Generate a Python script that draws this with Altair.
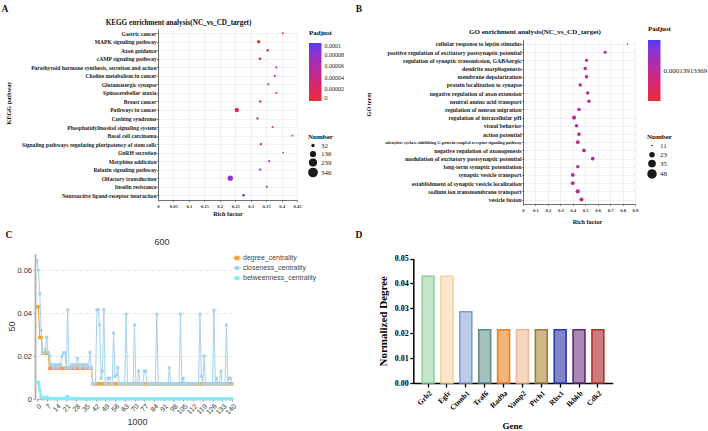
import altair as alt
import pandas as pd

SERIF = "Liberation Serif"
SANS = "Liberation Sans"
WIDTH, HEIGHT = 708, 431

# ---------------- A: KEGG enrichment ----------------
kegg_terms = [
    "Gastric cancer", "MAPK signaling pathway", "Axon guidance", "cAMP signaling pathway",
    "Parathyroid hormone synthesis, secretion and action", "Choline metabolism in cancer",
    "Glutamatergic synapse", "Spinocerebellar ataxia", "Breast cancer", "Pathways in cancer",
    "Cushing syndrome", "Phosphatidylinositol signaling system", "Basal cell carcinoma",
    "Signaling pathways regulating pluripotency of stem cells", "GnRH secretion",
    "Morphine addiction", "Relaxin signaling pathway", "Olfactory transduction",
    "Insulin resistance", "Neuroactive ligand-receptor interaction",
]
kegg_rich = [0.404, 0.326, 0.355, 0.330, 0.383, 0.378, 0.357, 0.383, 0.331, 0.255,
             0.322, 0.371, 0.435, 0.333, 0.405, 0.360, 0.331, 0.234, 0.352, 0.277]
kegg_padj = [1e-7, 1e-7, 2e-7, 3e-7, 5e-7, 6e-7, 8e-7, 1e-6, 1.5e-6, 2e-6,
             8e-6, 1.4e-5, 1.8e-5, 2.0e-5, 6.0e-5, 6.5e-5, 7.5e-5, 8.0e-5, 7.5e-5, 9.0e-5]
kegg_count = [5, 35, 15, 20, 8, 8, 10, 6, 15, 65, 12, 8, 5, 14, 5, 8, 12, 100, 8, 20]
kegg_size_breaks = [32, 136, 239, 346]
kegg_padj_breaks = [0, 0.00002, 0.00004, 0.00006, 0.00008, 0.0001]
kegg_rich_ticks = [0, 0.05, 0.1, 0.15, 0.2, 0.25, 0.3, 0.35, 0.4, 0.45]

# ---------------- B: GO enrichment ----------------
go_terms = [
    "cellular response to leptin stimulus",
    "positive regulation of excitatory postsynaptic potential",
    "regulation of synaptic transmission, GABAergic",
    "dendrite morphogenesis",
    "membrane depolarization",
    "protein localization to synapse",
    "negative regulation of axon extension",
    "neutral amino acid transport",
    "regulation of neuron migration",
    "regulation of intracellular pH",
    "visual behavior",
    "action potential",
    "adenylate cyclase-inhibiting G-protein coupled receptor signaling pathway",
    "negative regulation of axonogenesis",
    "modulation of excitatory postsynaptic potential",
    "long-term synaptic potentiation",
    "synaptic vesicle transport",
    "establishment of synaptic vesicle localization",
    "sodium ion transmembrane transport",
    "vesicle fusion",
]
go_rich = [0.84, 0.66, 0.51, 0.50, 0.51, 0.46, 0.52, 0.53, 0.45, 0.41,
           0.43, 0.45, 0.44, 0.49, 0.56, 0.44, 0.40, 0.40, 0.44, 0.47]
go_count = [11, 14, 14, 15, 15, 15, 15, 15, 15, 17, 15, 16, 16, 16, 16, 15, 16, 16, 18, 17]
go_padj = [0.00013913369, 0.00013913369, 0.00013913369, 0.00013913369, 0.00013913369,
           0.00013913369, 0.00013913369, 0.00013913369, 0.00013913369, 0.00013913369,
           0.00013913369, 0.00013913369, 0.00013913369, 0.00013913369, 0.00013913369,
           0.00013913369, 0.00013913369, 0.00013913369, 0.00013913369, 0.00013913369]
go_size_breaks = [11, 23, 35, 48]
go_rich_ticks = [0, 0.1, 0.2, 0.3, 0.4, 0.5, 0.6, 0.7, 0.8, 0.9]

# ---------------- C: network centralities per node ----------------
node_index = list(range(141))
degree_centrality = [
    0.0429, 0.0429, 0.0286, 0.0286, 0.0214, 0.0214, 0.0214, 0.0214, 0.0214, 0.0143,
    0.0143, 0.0143, 0.0143, 0.0143, 0.0143, 0.0143, 0.0143, 0.0143, 0.0143, 0.0143,
    0.0143, 0.0143, 0.0143, 0.0143, 0.0143, 0.0143, 0.0143, 0.0143, 0.0143, 0.0143,
    0.0143, 0.0143, 0.0143, 0.0143, 0.0143, 0.0143, 0.0143, 0.0143, 0.0143, 0.0143,
    0.0071, 0.0071, 0.0071, 0.0071, 0.0071, 0.0071, 0.0071, 0.0071, 0.0071, 0.0071,
    0.0071, 0.0071, 0.0071, 0.0071, 0.0071, 0.0071, 0.0071, 0.0071, 0.0071, 0.0071,
    0.0071, 0.0071, 0.0071, 0.0071, 0.0071, 0.0071, 0.0071, 0.0071, 0.0071, 0.0071,
    0.0071, 0.0071, 0.0071, 0.0071, 0.0071, 0.0071, 0.0071, 0.0071, 0.0071, 0.0071,
    0.0071, 0.0071, 0.0071, 0.0071, 0.0071, 0.0071, 0.0071, 0.0071, 0.0071, 0.0071,
    0.0071, 0.0071, 0.0071, 0.0071, 0.0071, 0.0071, 0.0071, 0.0071, 0.0071, 0.0071,
    0.0071, 0.0071, 0.0071, 0.0071, 0.0071, 0.0071, 0.0071, 0.0071, 0.0071, 0.0071,
    0.0071, 0.0071, 0.0071, 0.0071, 0.0071, 0.0071, 0.0071, 0.0071, 0.0071, 0.0071,
    0.0071, 0.0071, 0.0071, 0.0071, 0.0071, 0.0071, 0.0071, 0.0071, 0.0071, 0.0071,
    0.0071, 0.0071, 0.0071, 0.0071, 0.0071, 0.0071, 0.0071, 0.0071, 0.0071, 0.0071,
    0.0071,
]
closeness_centrality = [
    0.0645, 0.0600, 0.0490, 0.0320, 0.0215, 0.0215, 0.0230, 0.0287, 0.0215, 0.0200,
    0.0160, 0.0160, 0.0145, 0.0160, 0.0160, 0.0145, 0.0160, 0.0160, 0.0200, 0.0215,
    0.0215, 0.0145, 0.0415, 0.0145, 0.0145, 0.0160, 0.0160, 0.0145, 0.0160, 0.0190,
    0.0160, 0.0145, 0.0160, 0.0160, 0.0160, 0.0145, 0.0160, 0.0145, 0.0217, 0.0145,
    0.0071, 0.0071, 0.0071, 0.0415, 0.0415, 0.0345, 0.0097, 0.0130, 0.0415, 0.0071,
    0.0071, 0.0097, 0.0097, 0.0071, 0.0071, 0.0307, 0.0105, 0.0110, 0.0145, 0.0071,
    0.0071, 0.0071, 0.0071, 0.0071, 0.0395, 0.0071, 0.0071, 0.0071, 0.0071, 0.0071,
    0.0345, 0.0071, 0.0071, 0.0130, 0.0071, 0.0071, 0.0071, 0.0130, 0.0130, 0.0071,
    0.0071, 0.0071, 0.0071, 0.0071, 0.0071, 0.0071, 0.0395, 0.0071, 0.0071, 0.0071,
    0.0071, 0.0071, 0.0071, 0.0071, 0.0071, 0.0145, 0.0071, 0.0071, 0.0071, 0.0071,
    0.0071, 0.0071, 0.0071, 0.0395, 0.0071, 0.0097, 0.0071, 0.0071, 0.0071, 0.0071,
    0.0071, 0.0071, 0.0071, 0.0071, 0.0071, 0.0071, 0.0071, 0.0395, 0.0105, 0.0071,
    0.0200, 0.0071, 0.0071, 0.0071, 0.0071, 0.0071, 0.0071, 0.0413, 0.0071, 0.0097,
    0.0071, 0.0071, 0.0130, 0.0071, 0.0071, 0.0071, 0.0345, 0.0071, 0.0097, 0.0097,
    0.0071,
]
betweenness_centrality = [
    0.0075, 0.0078, 0.0042, 0.0010, 0.0006, 0.0005, 0.0005, 0.0009, 0.0004, 0.0003,
    0.0002, 0.0002, 0.0002, 0.0002, 0.0002, 0.0002, 0.0002, 0.0002, 0.0002, 0.0002,
    0.0002, 0.0002, 0.0012, 0.0002, 0.0002, 0.0002, 0.0002, 0.0001, 0.0001, 0.0002,
    0.0001, 0.0001, 0.0001, 0.0001, 0.0001, 0.0001, 0.0001, 0.0001, 0.0001, 0.0001,
    0.0001, 0.0001, 0.0001, 0.0001, 0.0001, 0.0001, 0.0001, 0.0001, 0.0001, 0.0001,
    0.0001, 0.0001, 0.0001, 0.0001, 0.0001, 0.0001, 0.0001, 0.0001, 0.0001, 0.0001,
    0.0001, 0.0001, 0.0001, 0.0001, 0.0001, 0.0001, 0.0001, 0.0001, 0.0001, 0.0001,
    0.0001, 0.0001, 0.0001, 0.0001, 0.0001, 0.0001, 0.0001, 0.0001, 0.0001, 0.0001,
    0.0001, 0.0001, 0.0001, 0.0001, 0.0001, 0.0001, 0.0001, 0.0001, 0.0001, 0.0001,
    0.0001, 0.0001, 0.0001, 0.0001, 0.0001, 0.0001, 0.0001, 0.0001, 0.0001, 0.0001,
    0.0001, 0.0001, 0.0001, 0.0001, 0.0001, 0.0001, 0.0001, 0.0001, 0.0001, 0.0001,
    0.0001, 0.0001, 0.0001, 0.0001, 0.0001, 0.0001, 0.0001, 0.0001, 0.0001, 0.0001,
    0.0001, 0.0001, 0.0001, 0.0001, 0.0001, 0.0001, 0.0001, 0.0001, 0.0001, 0.0001,
    0.0001, 0.0001, 0.0001, 0.0001, 0.0001, 0.0001, 0.0001, 0.0001, 0.0001, 0.0001,
    0.0001,
]
series_names = ["degree_centrality", "closeness_centrality", "betweenness_centrality"]
node_ticks = [0, 7, 14, 21, 28, 35, 42, 49, 56, 63, 70, 77, 84, 91, 98, 105, 112, 119, 126, 133, 140]
centrality_ticks = [0, 0.02, 0.04, 0.06]

# ---------------- D: top genes by normalized degree ----------------
genes = ["Grb2", "Egfr", "Ctnnb1", "Traf6", "Rad9a", "Vamp2", "Ptch1", "Rbx1", "Ikbkb", "Cdk2"]
norm_degree = [0.0429, 0.0429, 0.0286, 0.0214, 0.0214, 0.0214, 0.0214, 0.0214, 0.0214, 0.0214]
degree_ticks = [0, 0.01, 0.02, 0.03, 0.04, 0.05]

# ---------------- styling ----------------
padj_colors = ["#e8161d", "#3b24f4"]
c_orange, c_blue, c_cyan = "#f2a33a", "#a6d2ef", "#84ecf8"
bar_fill = ["#c6e6cb", "#fbe7cb", "#bccde9", "#a4c1c0", "#f4b57c",
            "#f6d5c1", "#cfb78c", "#8186cb", "#aa88b3", "#cb7c7d"]
bar_edge = ["#8fd09d", "#f2cf98", "#7d9ed2", "#5e8b8a", "#ea821c",
            "#eab898", "#9c7b3b", "#2d36aa", "#5e2b6c", "#b3302f"]
legend_paths = [
    "M-1.7,0L1.7,0M-0.7,-0.7L0.7,-0.7L0.7,0.7L-0.7,0.7Z",
    "M-1.7,0L1.7,0M0.7,0A0.7,0.7,0,1,1,-0.7,0A0.7,0.7,0,1,1,0.7,0Z",
    "M-1.7,0L1.7,0M0.7,0A0.7,0.7,0,1,1,-0.7,0A0.7,0.7,0,1,1,0.7,0Z",
]
GRID = "#e8e8e8"
INK = "#333333"


def text_layer(txt, x, y, size, font=SERIF, weight="bold", angle=0, color="#111111",
               align="center"):
    return alt.Chart(pd.DataFrame({"txt": [txt]})).mark_text(
        font=font, fontSize=size, fontWeight=weight, angle=angle, color=color,
        align=align, baseline="middle",
    ).encode(x=alt.value(x), y=alt.value(y), text="txt:N")


def enrichment_layers(df, terms, rich_dom, x_rng, y_rng, x_ticks, axis_y_px, ytitle,
                      ytitle_x, ytitle_y, xtitle_x, xtitle_y, color_scale, color_legend,
                      size_scale, size_legend, label_size):
    x_scale = alt.Scale(domain=rich_dom, range=x_rng, nice=False, zero=False)
    y_scale = alt.Scale(range=y_rng, padding=0.5)
    # vertical grid lines, hung from a label-less top axis
    grid = alt.Chart(df).mark_circle(opacity=0).encode(
        x=alt.X("rich:Q", scale=x_scale,
                axis=alt.Axis(orient="top", values=x_ticks, grid=True, gridColor=GRID,
                              gridWidth=0.6, labels=False, ticks=False, domain=False,
                              title=None)),
        y=alt.Y("term:N", sort=terms, scale=y_scale, axis=None),
    )
    points = alt.Chart(df).mark_circle(opacity=0.9).encode(
        x=alt.X("rich:Q", scale=x_scale,
                axis=alt.Axis(orient="bottom", offset=axis_y_px - HEIGHT, values=x_ticks,
                              format="~g", labelFont=SERIF, labelFontWeight="bold",
                              labelFontSize=4.7, labelColor=INK, labelFlush=False,
                              labelOverlap=False, labelPadding=1.5, tickSize=1.5,
                              tickColor=INK, tickWidth=0.6, domainColor=INK, domainWidth=0.7,
                              grid=False,
                              title="Rich factor", titleFont=SERIF, titleFontWeight="bold",
                              titleFontSize=6.2, titleColor="#111111", titleX=xtitle_x,
                              titleY=xtitle_y, titleBaseline="middle")),
        y=alt.Y("term:N", sort=terms, scale=y_scale,
                axis=alt.Axis(orient="left", offset=-x_rng[0], labelFont=SERIF,
                              labelFontWeight="bold", labelFontSize=label_size,
                              labelColor="#1a1a1a", labelPadding=0.5, labelLimit=400,
                              labelOverlap=False, tickSize=1.5, tickColor=INK, tickWidth=0.6,
                              domainColor=INK, domainWidth=0.7, grid=True, gridColor=GRID,
                              gridWidth=0.6, title=ytitle, titleFont=SERIF,
                              titleFontWeight="bold", titleFontSize=6.2, titleColor="#111111",
                              titleX=ytitle_x, titleY=ytitle_y, titleAngle=270,
                              titleBaseline="middle")),
        color=alt.Color("padj:Q", scale=color_scale, legend=color_legend),
        size=alt.Size("count:Q", scale=size_scale, legend=size_legend),
    )
    return [grid, points]


def gradient_legend(x, y, title_pad, length, values, fmt, label_size):
    return alt.Legend(orient="none", legendX=x, legendY=y, direction="vertical", padding=0,
                      title="Padjust", titleFont=SERIF, titleFontWeight="bold",
                      titleFontSize=7, titleColor="#111111", titlePadding=title_pad,
                      gradientLength=length, gradientThickness=12.5, gradientStrokeWidth=0,
                      values=values, format=fmt, labelFont=SERIF, labelFontSize=label_size,
                      labelColor="#222222", labelOffset=3)


def size_legend(x, y, values, row_pad):
    return alt.Legend(orient="none", legendX=x, legendY=y, padding=0, title="Number",
                      titleFont=SERIF, titleFontWeight="bold", titleFontSize=7,
                      titleColor="#111111", titlePadding=2.5, values=values,
                      symbolType="circle", symbolFillColor="black", symbolStrokeWidth=0,
                      labelFont=SERIF, labelFontSize=7, labelColor="#222222",
                      labelOffset=3, rowPadding=row_pad)


# ---- panel A ----
kegg_df = pd.DataFrame({"term": kegg_terms, "rich": kegg_rich,
                        "padj": kegg_padj, "count": kegg_count})
panel_a = enrichment_layers(
    kegg_df, kegg_terms, [0, 0.45], [158, 297], [29, 199.5], kegg_rich_ticks, 200,
    "KEGG pathway", -150, 102.5, 227.5, 13,
    alt.Scale(domain=[0, 0.0001], range=padj_colors, interpolate="lab"),
    gradient_legend(309, 28.5, 7.5, 58, kegg_padj_breaks, "~f", 6),
    alt.Scale(domain=[0, 346], range=[2, 95], zero=False, nice=False),
    size_legend(308, 132.5, kegg_size_breaks, 0.5),
    5.6,
)

# ---- panel B ----
go_df = pd.DataFrame({"term": go_terms, "rich": go_rich, "padj": go_padj, "count": go_count})
go_p = go_padj[0]
panel_b = enrichment_layers(
    go_df, go_terms, [0, 0.9], [523, 635], [39.9, 203.6], go_rich_ticks, 204,
    "GO term", -155, 104, 587, 17,
    alt.Scale(domain=[go_p * 0.5, go_p * 1.5], range=padj_colors, interpolate="lab"),
    gradient_legend(648, 24.5, 8.5, 61, [go_p], ".11f", 7),
    alt.Scale(domain=[11, 48], range=[2.5, 90], zero=False, nice=False),
    size_legend(647, 132.5, go_size_breaks, 1.3),
    {"condition": {"test": "length(datum.label) > 60", "value": 4.3}, "value": 5.8},
)

# ---- panel C ----
c_x_scale = alt.Scale(domain=[0, 140], range=[37, 232], nice=False, zero=False)
c_y_scale = alt.Scale(domain=[0, 0.0675], range=[399, 254], nice=False, zero=False)
c_x_axis = alt.Axis(orient="bottom", offset=399 - HEIGHT, values=node_ticks, format="d",
                    labelAngle=-45, labelAlign="right", labelBaseline="top",
                    labelFont=SANS, labelFontSize=7, labelColor=INK, labelFlush=False,
                    labelOverlap=False, labelPadding=1, tickSize=2, tickColor="#999999",
                    domainColor="#b0b0b0", domainWidth=1.5, grid=False,
                    title="1000", titleFont=SANS, titleFontSize=9, titleFontWeight="normal",
                    titleColor=INK, titleX=137, titleY=22, titleBaseline="middle")
c_y_axis = alt.Axis(orient="left", offset=-35, values=centrality_ticks, format="~g",
                    labelFont=SANS, labelFontSize=7.5, labelColor=INK, labelPadding=1.5,
                    tickSize=2, tickColor="#999999", domainColor="#b0b0b0", domainWidth=1.8,
                    grid=True, gridColor="#dddddd", gridDash=[3, 3], gridWidth=0.8,
                    title="50", titleFont=SANS, titleFontSize=9, titleFontWeight="normal",
                    titleColor=INK, titleX=-24, titleY=326, titleAngle=270,
                    titleBaseline="middle")


def c_chart(values, with_axes=False):
    df = pd.DataFrame({"node": node_index, "value": values})
    return alt.Chart(df).encode(
        x=alt.X("node:Q", scale=c_x_scale, axis=c_x_axis if with_axes else None),
        y=alt.Y("value:Q", scale=c_y_scale, axis=c_y_axis if with_axes else None),
    )


deg_line = c_chart(degree_centrality, with_axes=True).mark_line(color=c_orange, strokeWidth=1.2)
deg_pts = c_chart(degree_centrality).mark_square(color=c_orange, size=11, opacity=1)
clo_line = c_chart(closeness_centrality).mark_line(color=c_blue, strokeWidth=1)
clo_pts = c_chart(closeness_centrality).mark_circle(color=c_blue, size=12, opacity=1)
bet_line = c_chart(betweenness_centrality).mark_line(color=c_cyan, strokeWidth=2.4)
bet_pts = c_chart(betweenness_centrality).mark_circle(color=c_cyan, size=13, opacity=1)

c_legend = alt.Legend(orient="none", legendX=233.5, legendY=254.5, padding=0, title=None,
                      symbolSize=25, symbolOpacity=1, symbolStrokeWidth=1.2,
                      labelFont=SANS, labelFontSize=7, labelColor="#444444",
                      labelOffset=2.5, rowPadding=1)
series_colors = [c_orange, c_blue, c_cyan]
c_key = alt.Chart(pd.DataFrame({"series": series_names})).mark_point(
    filled=True, opacity=0).encode(
    color=alt.Color("series:N", scale=alt.Scale(domain=series_names, range=series_colors),
                    legend=c_legend),
    stroke=alt.Stroke("series:N", scale=alt.Scale(domain=series_names, range=series_colors),
                      legend=c_legend),
    shape=alt.Shape("series:N", scale=alt.Scale(domain=series_names, range=legend_paths),
                    legend=c_legend),
)

# ---- panel D ----
gene_df = pd.DataFrame({"gene": genes, "deg": norm_degree})
panel_d = alt.Chart(gene_df).mark_bar(strokeWidth=1.6, opacity=1).encode(
    x=alt.X("gene:N", sort=genes,
            scale=alt.Scale(range=[413.3, 612.7], paddingInner=0.37, paddingOuter=0.47),
            axis=alt.Axis(orient="bottom", offset=383 - HEIGHT, labelAngle=-45,
                          labelAlign="right", labelBaseline="top", labelFont=SERIF,
                          labelFontWeight="bold", labelFontSize=7.5, labelColor="black",
                          labelPadding=2, tickSize=4, tickWidth=1.3, tickColor="black",
                          domainColor="black", domainWidth=1.5, grid=False,
                          title="Gene", titleFont=SERIF, titleFontWeight="bold",
                          titleFontSize=9, titleColor="black", titleX=512, titleY=42,
                          titleBaseline="middle")),
    y=alt.Y("deg:Q",
            scale=alt.Scale(domain=[0, 0.05], range=[383, 258.5], nice=False, zero=False),
            axis=alt.Axis(orient="left", offset=-413.3, values=degree_ticks, format=".2f",
                          labelFont=SERIF, labelFontWeight="bold", labelFontSize=8,
                          labelColor="black", labelPadding=1.5, tickSize=3.5, tickWidth=1.3,
                          tickColor="black", domainColor="black", domainWidth=1.5,
                          grid=False, title="Normalized Degree", titleFont=SERIF,
                          titleFontWeight="bold", titleFontSize=11, titleColor="black",
                          titleX=-30, titleY=320.8, titleAngle=270, titleBaseline="middle")),
    color=alt.Color("gene:N", scale=alt.Scale(domain=genes, range=bar_fill), legend=None),
    stroke=alt.Stroke("gene:N", scale=alt.Scale(domain=genes, range=bar_edge), legend=None),
)

# ---- titles and panel tags ----
texts = [
    text_layer("A", 5, 8.8, 9.5),
    text_layer("B", 359, 8.8, 9.5),
    text_layer("C", 9, 234.7, 9.5),
    text_layer("D", 359, 234.7, 9.5),
    text_layer("KEGG enrichment analysis(NC_vs_CD_target)", 178.5, 23.3, 7.2),
    text_layer("GO enrichment analysis(NC_vs_CD_target)", 535, 31.7, 7),
    text_layer("600", 162, 242, 9, font=SANS, weight="normal", color=INK),
]

chart = alt.layer(
    *panel_a, *panel_b,
    deg_line, deg_pts, clo_line, clo_pts, bet_line, bet_pts, c_key,
    panel_d, *texts,
).resolve_scale(
    x="independent", y="independent", color="independent", size="independent",
    shape="independent", stroke="independent",
).properties(
    width=WIDTH, height=HEIGHT, padding=0, background="white",
    autosize=alt.AutoSizeParams(type="none"),
).configure_view(strokeWidth=0)

chart.save("out.html", embed_options={"renderer": "svg", "actions": False})
